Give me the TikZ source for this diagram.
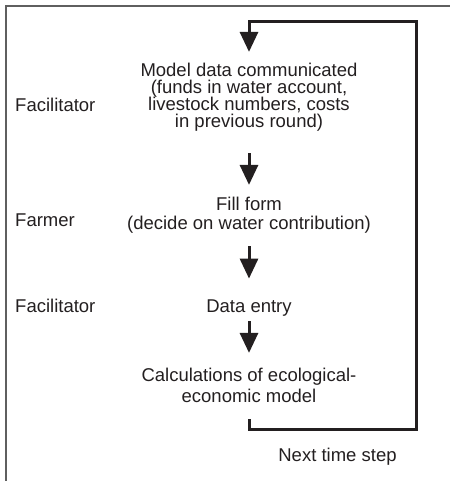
\documentclass[tikz,border=0pt]{standalone}
\usepackage{fontspec}
\setmainfont{Liberation Sans}
\usetikzlibrary{arrows.meta}
\definecolor{ink}{RGB}{35,31,32}
\definecolor{framegray}{RGB}{95,95,95}
\lineskiplimit=-10pt
\begin{document}
\begin{tikzpicture}[x=1pt,y=-1pt,
  every node/.style={inner sep=0pt, text=ink},
  txt/.style={font=\fontsize{18.5}{16.7}\selectfont},
  stepblock/.style={txt, align=center, anchor=base},
  role/.style={txt, anchor=base west},
  flow/.style={draw=ink, line width=3pt, -{Triangle[length=20pt,width=18pt]}},
  loopline/.style={draw=ink, line width=3pt, line join=miter, -{Triangle[length=20pt,width=18pt]}},
  framel/.style={draw=framegray, line width=1.5pt},
  ]
\useasboundingbox (0,0) rectangle (450,481);
% partial frame
\coordinate (fbl) at (6,481);
\coordinate (ftl) at (6,6);
\coordinate (ftr) at (450,6);
\draw[framel] (fbl) -- (ftl) -- (ftr);

% steps (anchor base = baseline of the last line)
\node[stepblock] (b1) at (249,127.1) {Model data communicated\\(funds in water account,\\livestock numbers, costs\\in previous round)};
\node[stepblock] (b2) at (249,229) {Fill form\\[2.3pt](decide on water contribution)};
\node[stepblock] (b3) at (249,312) {Data entry};
\node[stepblock] (b4) at (249,402) {Calculations of ecological-\\[4.3pt]economic model};

% roles
\node[role] (r1) at (15,112) {Facilitator};
\node[role] (r2) at (15,226) {Farmer};
\node[role] (r3) at (15,312) {Facilitator};

\node[txt, anchor=base] (nts) at (337.5,461) {Next time step};

% arrows
\draw[flow, shorten <=22pt, shorten >=11.5pt] (b1.south) -- (b2.north);
\draw[flow, shorten <=13pt, shorten >=20.5pt] (b2.south) -- (b3.north);
\draw[flow, shorten <=5pt, shorten >=14.5pt] (b3.south) -- (b4.north);

% feedback loop
\coordinate (br) at (416,429);
\coordinate (tr) at (416,22);
\draw[loopline, shorten <=17pt, shorten >=11.5pt] (b4.south) |- (br) -- (tr) -| (b1.north);
\end{tikzpicture}
\end{document}
